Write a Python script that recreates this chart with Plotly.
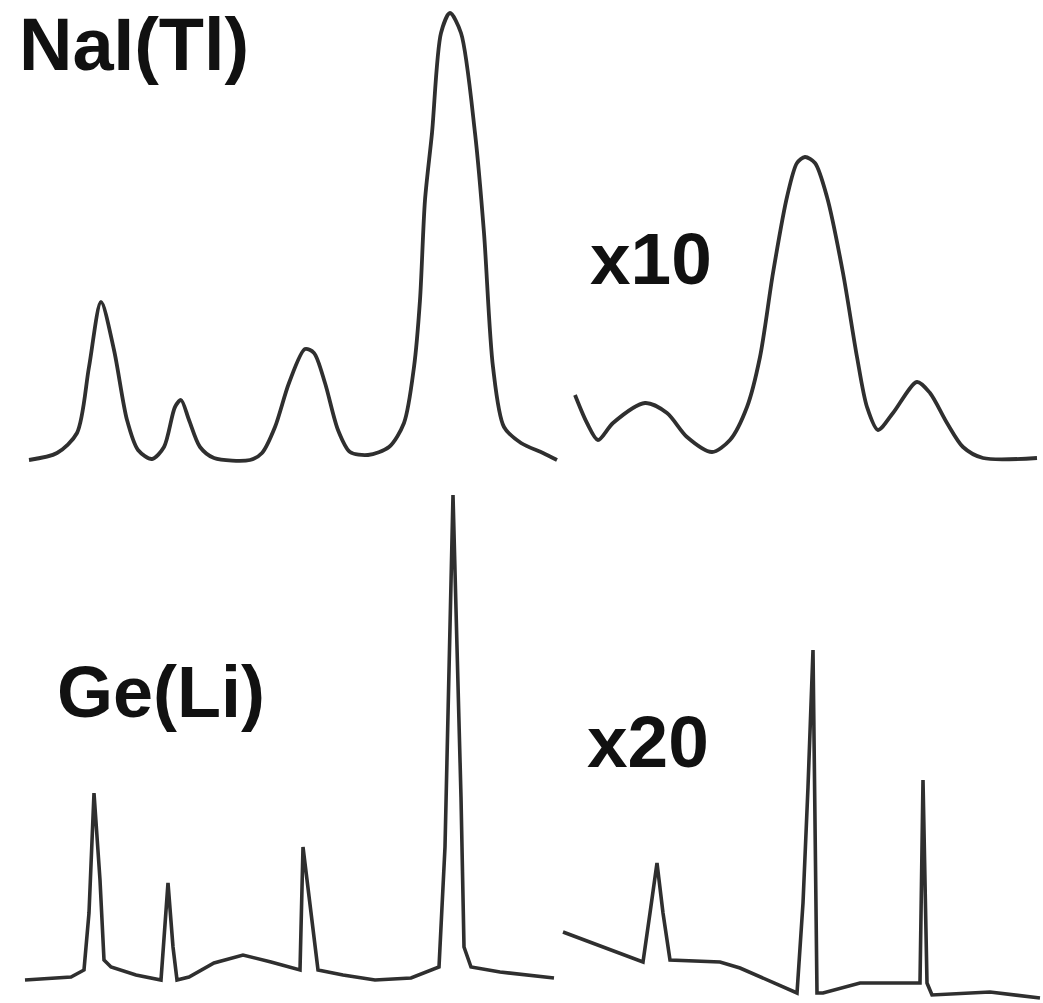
import plotly.graph_objects as go

# ---- NaI(Tl) full spectrum (channel, counts above baseline) ----
nai_ch = [29, 57, 77, 89, 101, 114, 127, 138, 152, 164, 175, 181, 189, 200, 214, 250, 262, 275, 289, 305,
          314, 325, 338, 350, 368, 389, 404, 414, 420, 425, 432, 441, 450, 461, 475, 484, 493, 504, 521, 543, 557]
nai_ct = [0, 7, 27, 93, 158, 110, 40, 10, 1, 13, 53, 60, 40, 13, 2, 0, 7, 33, 77, 111,
          107, 77, 30, 8, 5, 13, 37, 93, 160, 260, 327, 427, 447, 427, 327, 227, 93, 33, 17, 7, 0]

# ---- NaI(Tl) x10 high-energy region ----
nai10_ch = [575, 587, 598, 613, 645, 667, 687, 712, 730, 747, 760, 773, 787, 797, 805, 815, 827, 843,
            857, 867, 878, 893, 917, 930, 947, 963, 983, 1037]
nai10_ct = [63, 35, 18, 35, 55, 45, 21, 6, 18, 51, 101, 185, 261, 295, 301, 295, 261, 185,
            101, 51, 28, 45, 76, 65, 35, 11, 0, 0]

# ---- Ge(Li) full spectrum ----
ge_ch = [25, 71, 84, 89, 94, 100, 104, 111, 136, 161, 168, 173, 177, 189, 214, 243, 271, 300, 303, 311,
         318, 343, 375, 411, 439, 445, 448, 451, 453, 457, 461, 464, 471, 500, 554]
ge_ct = [0, 3, 10, 67, 187, 100, 20, 13, 5, 0, 97, 33, 0, 3, 17, 25, 18, 10, 133, 67,
         10, 5, 0, 2, 13, 133, 267, 433, 485, 333, 183, 33, 13, 8, 2]

# ---- Ge(Li) x20 high-energy region ----
ge20_ch = [563, 643, 650, 657, 663, 670, 720, 740, 797, 803, 808, 813, 817, 823, 860, 920, 923, 927,
           932, 990, 1040]
ge20_ct = [66, 36, 85, 135, 85, 38, 36, 30, 5, 95, 211, 348, 5, 5, 15, 15, 218, 15,
           3, 6, 0]

labels = ["NaI(Tl)", "x10", "Ge(Li)", "x20"]

# layout positions (not data)
W, H = 1043, 1003
line_col = "#2f2f2f"

def yv(cts, base):
    return [H - base + c for c in cts]

fig = go.Figure()
fig.add_trace(go.Scatter(x=nai_ch, y=yv(nai_ct, 460), mode="lines",
                         line=dict(color=line_col, width=3.8, shape="spline", smoothing=0.8)))
fig.add_trace(go.Scatter(x=nai10_ch, y=yv(nai10_ct, 458), mode="lines",
                         line=dict(color=line_col, width=3.8, shape="spline", smoothing=0.8)))
fig.add_trace(go.Scatter(x=ge_ch, y=yv(ge_ct, 980), mode="lines",
                         line=dict(color=line_col, width=3.6)))
fig.add_trace(go.Scatter(x=ge20_ch, y=yv(ge20_ct, 998), mode="lines",
                         line=dict(color=line_col, width=3.6)))

label_pos = [(17, 44, 74), (588, 258, 73), (55, 692, 72), (585, 741, 73)]
for txt, (px, py, fs) in zip(labels, label_pos):
    fig.add_annotation(x=px, y=H - py, xref="x", yref="y", text="<b>%s</b>" % txt,
                       showarrow=False, xanchor="left", yanchor="middle",
                       font=dict(family="Liberation Sans, Arial, sans-serif", size=fs, color="#111111"))

fig.update_xaxes(range=[0, W], visible=False)
fig.update_yaxes(range=[0, H], visible=False)
fig.update_layout(width=W, height=H, margin=dict(l=0, r=0, t=0, b=0),
                  plot_bgcolor="white", paper_bgcolor="white", showlegend=False)
fig.write_html("out.html", config={"displayModeBar": False},
               post_script="document.body.style.margin='0';document.body.style.overflow='hidden';")
